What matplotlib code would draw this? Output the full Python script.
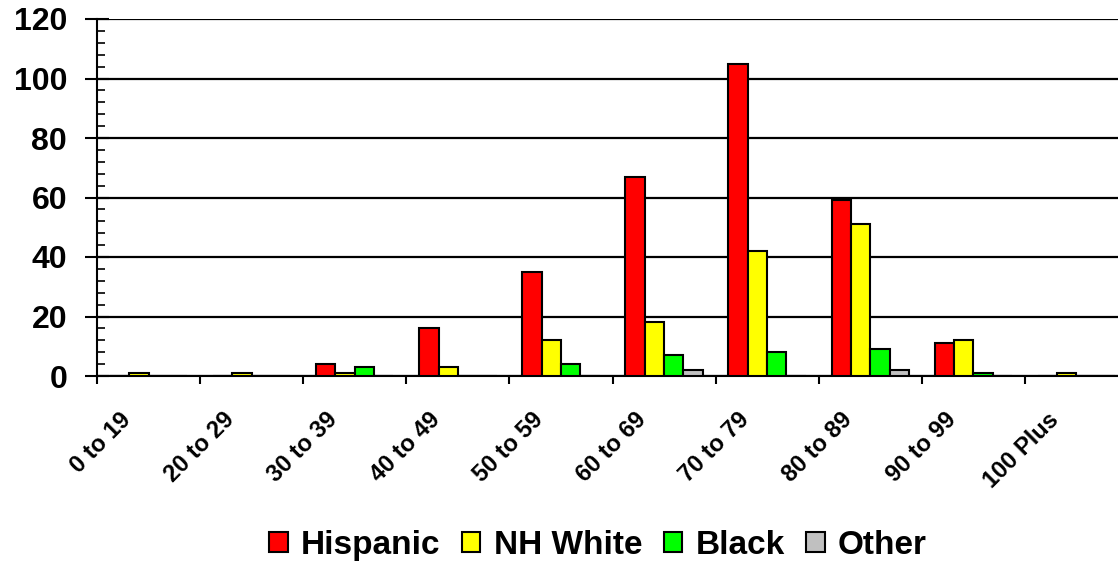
import numpy as np
import matplotlib
matplotlib.use('Agg')
import matplotlib.pyplot as plt
from matplotlib.ticker import MultipleLocator, FixedLocator, NullFormatter
from matplotlib.transforms import ScaledTranslation

plt.rcParams['font.family'] = ['Liberation Sans', 'DejaVu Sans']
plt.rcParams['font.weight'] = 'bold'

age_groups = ['0 to 19', '20 to 29', '30 to 39', '40 to 49', '50 to 59',
              '60 to 69', '70 to 79', '80 to 89', '90 to 99', '100 Plus']
hispanic = [0, 0, 4, 16, 35, 67, 105, 59, 11, 0]
nh_white = [1, 1, 1, 3, 12, 18, 42, 51, 12, 1]
black = [0, 0, 3, 0, 4, 7, 8, 9, 1, 0]
other = [0, 0, 0, 0, 0, 2, 0, 2, 0, 0]

series = [('Hispanic', hispanic, '#FF0000'),
          ('NH White', nh_white, '#FFFF00'),
          ('Black', black, '#00FF00'),
          ('Other', other, '#C0C0C0')]

fig = plt.figure(figsize=(11.18, 5.62), dpi=100)
ax = fig.add_axes([97/1118, 186/562, 1031/1118, 357/562])

x = np.arange(len(age_groups))
w = 0.1875
for k, (name, vals, col) in enumerate(series):
    ax.bar(x - 1.5*w + k*w, vals, width=w, color=col, edgecolor='black',
           linewidth=1.5, label=name, zorder=3)

ax.set_xlim(-0.5, len(age_groups) - 0.5)
ax.set_ylim(0, 120)

# y axis
ax.yaxis.set_major_locator(MultipleLocator(20))
ax.yaxis.set_minor_locator(MultipleLocator(4))
ax.tick_params(axis='y', which='major', direction='inout', length=17, width=1.5,
               labelsize=23, pad=13)
ax.tick_params(axis='y', which='minor', direction='in', length=6, width=1.2)
ax.grid(axis='y', which='major', color='black', linewidth=1.6, zorder=1)

# x axis: ticks at category edges, labels at centres
ax.xaxis.set_major_locator(FixedLocator(np.arange(len(age_groups) + 1) - 0.5))
ax.xaxis.set_major_formatter(NullFormatter())
ax.xaxis.set_minor_locator(FixedLocator(x))
ax.set_xticks(x, age_groups, minor=True)
ax.tick_params(axis='x', which='major', direction='out', length=6, width=1.5)
ax.tick_params(axis='x', which='minor', length=0, labelsize=17, pad=23)
off = ScaledTranslation(-13/100, 0, fig.dpi_scale_trans)
for lab in ax.get_xticklabels(minor=True):
    lab.set_rotation(45)
    lab.set_ha('right')
    lab.set_va('top')
    lab.set_transform(lab.get_transform() + off)

for s in ['top', 'right']:
    ax.spines[s].set_visible(False)
ax.spines['left'].set_linewidth(1.5)
ax.spines['bottom'].set_linewidth(1.5)

fig.legend(loc='center', bbox_to_anchor=(0.535, 0.030), ncol=4, frameon=False,
           fontsize=24, handlelength=0.55, handleheight=0.55, handletextpad=0.4,
           columnspacing=0.65)

fig.savefig('out.png', dpi=100)
